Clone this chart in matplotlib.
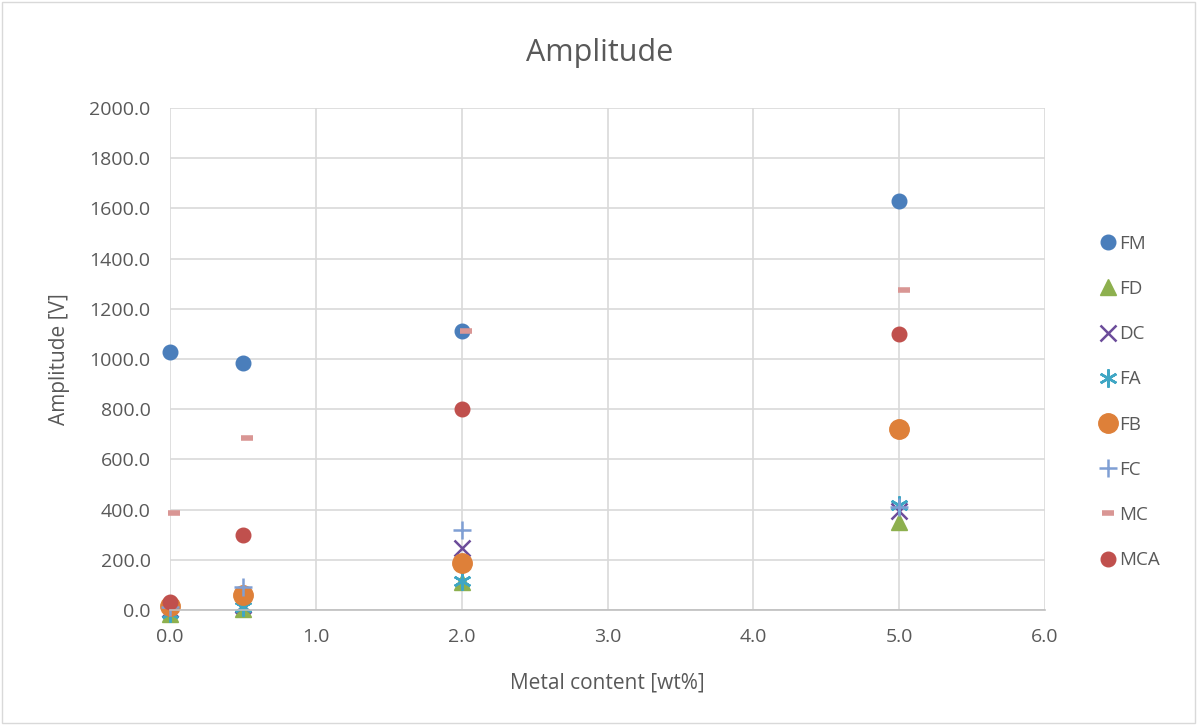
import matplotlib.pyplot as plt
from matplotlib.patches import Rectangle

plt.rcParams["font.family"] = ["Open Sans", "DejaVu Sans"]

metal = [0.0, 0.5, 2.0, 5.0]
metal_mc = [0.03, 0.53, 2.03, 5.03]

fm = [1028, 984, 1112, 1630]
fd = [-15, 5, 112, 350]
dc = [5, 20, 247, 395]
fa = [-10, 10, 116, 420]
fb = [16, 60, 187, 721]
fc = [10, 92, 319, 410]
mc = [387, 685, 1112, 1275]
mca = [32, 299, 801, 1100]

fig = plt.figure(figsize=(11.97, 7.25), dpi=100)
ax = fig.add_axes([170 / 1197, 1 - 610 / 725, 875 / 1197, 502 / 725])

fig.patches.append(Rectangle((2 / 1197, 2 / 725), 1 - 4 / 1197, 1 - 4 / 725,
                             transform=fig.transFigure, fill=False,
                             edgecolor="#D9D9D9", linewidth=1))

kw = dict(linestyle="none", clip_on=False)
ax.plot(metal, fm, marker="o", markersize=10.5, color="#4A7EBB", label="FM", **kw)
ax.plot(metal, fd, marker="^", markersize=12, color="#8DB04E", label="FD", **kw)
ax.plot(metal, dc, marker="x", markersize=11, markeredgewidth=1.8,
        color="#6B4C9A", label="DC", **kw)
ax.plot(metal, fa, marker=(6, 2, 0), markersize=13, markeredgewidth=1.8,
        color="#3FA6C4", label="FA", **kw)
ax.plot(metal, fb, marker="o", markersize=14, color="#DE8039", label="FB", **kw)
ax.plot(metal, fc, marker="+", markersize=13, markeredgewidth=1.8,
        color="#7F9FD4", label="FC", **kw)
ax.plot(metal_mc, mc, marker="_", markersize=8, markeredgewidth=4,
        color="#D99694", label="MC", **kw)
ax.plot(metal, mca, marker="o", markersize=10.5, color="#C0504D", label="MCA", **kw)

ax.set_xlim(0, 6)
ax.set_ylim(0, 2000)
ax.set_xticks([0, 1, 2, 3, 4, 5, 6])
ax.set_yticks(range(0, 2001, 200))
ax.xaxis.set_major_formatter(lambda v, p: f"{v:.1f}")
ax.yaxis.set_major_formatter(lambda v, p: f"{v:.1f}")
ax.tick_params(length=0, labelsize=14, colors="#595959")
ax.tick_params(axis="x", pad=13)
ax.tick_params(axis="y", pad=14)
ax.grid(True, color="#D9D9D9", linewidth=1.2)
ax.set_axisbelow(True)
for s in ["top", "right", "left"]:
    ax.spines[s].set_visible(False)
ax.spines["bottom"].set_color("#BFBFBF")
ax.spines["bottom"].set_linewidth(1.2)

ax.set_xlabel("Metal content [wt%]", fontsize=15, color="#595959", labelpad=19)
ax.set_ylabel("Amplitude [V]", fontsize=15, color="#595959", labelpad=14)
fig.text(600 / 1197, 1 - 53 / 725, "Amplitude", fontsize=22, color="#595959",
         ha="center", va="center")

leg = ax.legend(loc="center left", bbox_to_anchor=(1081 / 1197, 1 - 402 / 725),
                bbox_transform=fig.transFigure, frameon=False, fontsize=13.5,
                labelspacing=1.45, handletextpad=0.05, handlelength=1.1)
for t in leg.get_texts():
    t.set_color("#595959")

plt.savefig("out.png", dpi=100)
